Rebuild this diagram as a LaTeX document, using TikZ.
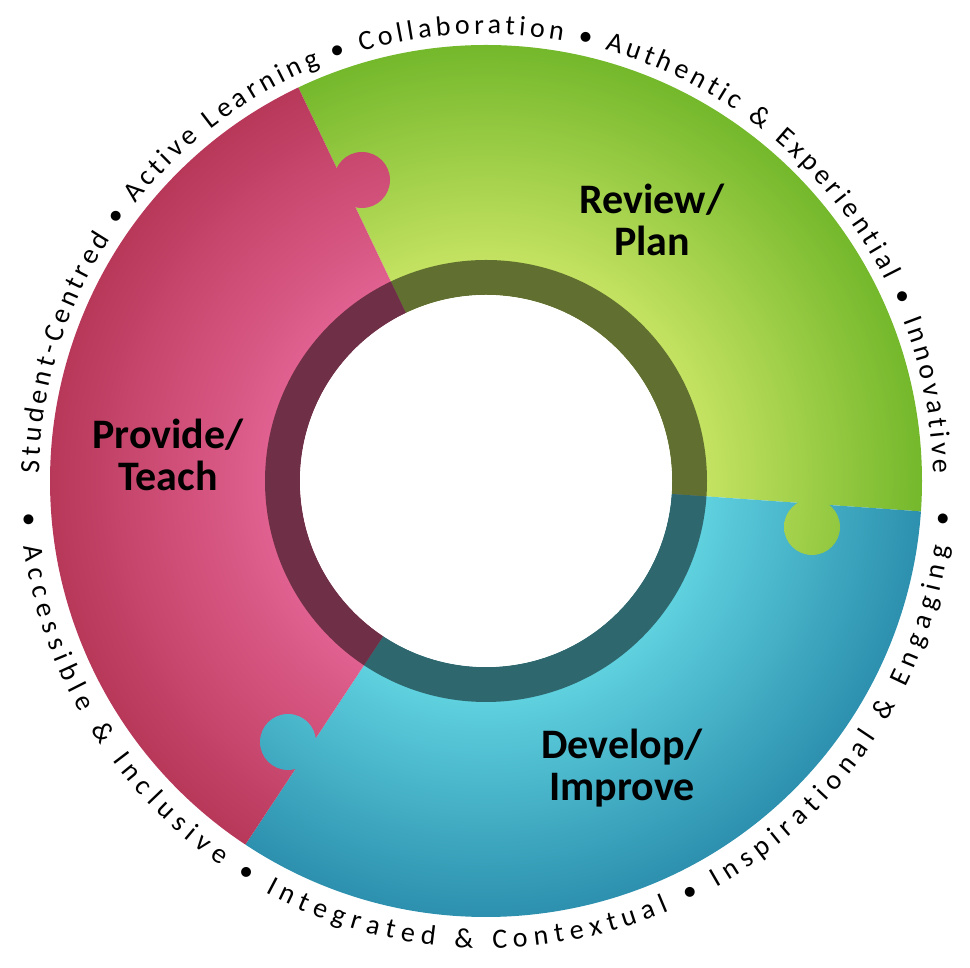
\documentclass[tikz,border=0pt]{standalone}
\usepackage{fontspec}
\setmainfont{Carlito}
\usetikzlibrary{decorations.text,calc}
\definecolor{pL}{HTML}{E0608F}\definecolor{pD}{HTML}{B8385A}
\definecolor{gL}{HTML}{C4E262}\definecolor{gD}{HTML}{74B82C}
\definecolor{bL}{HTML}{5ED0DE}\definecolor{bD}{HTML}{2C90AE}
\pgfdeclareradialshading{ringpink}{\pgfpointorigin}{color(0bp)=(pL); color(12.7bp)=(pL); color(25bp)=(pD); color(50bp)=(pD)}
\pgfdeclareradialshading{ringgreen}{\pgfpointorigin}{color(0bp)=(gL); color(12.7bp)=(gL); color(25bp)=(gD); color(50bp)=(gD)}
\pgfdeclareradialshading{ringblue}{\pgfpointorigin}{color(0bp)=(bL); color(12.7bp)=(bL); color(25bp)=(bD); color(50bp)=(bD)}
\newcommand\ringfont{\fontsize{28}{28}\selectfont}
\tikzset{lab/.style={font=\fontsize{42}{42}\selectfont\bfseries, align=center, text=black}}
\begin{document}
\begin{tikzpicture}[x=1pt,y=1pt]
\useasboundingbox (0,0) rectangle (970,968);
\coordinate (C) at (486,487);
% green segment
\begin{scope}
\clip (C) ++(-4:436) arc (-4:115.5:436) -- ($(C)+(115.5:186)$) arc (115.5:-4:186) -- cycle;
\shade[shading=ringgreen] (C) circle (436);
\end{scope}
% blue
\begin{scope}
\clip (C) ++(236.5:436) arc (236.5:356:436) -- ($(C)+(356:186)$) arc (356:236.5:186) -- cycle;
\shade[shading=ringblue] (C) circle (436);
\end{scope}
% pink
\begin{scope}
\clip (C) ++(115.5:436) arc (115.5:236.5:436) -- ($(C)+(236.5:186)$) arc (236.5:115.5:186) -- cycle;
\shade[shading=ringpink] (C) circle (436);
\end{scope}
% knobs
\begin{scope}\clip (362,788) circle (28); \shade[shading=ringpink] (C) circle (436);\end{scope}
\begin{scope}\clip (812,441) circle (28); \shade[shading=ringgreen] (C) circle (436);\end{scope}
\begin{scope}\clip (288,226) circle (28); \shade[shading=ringblue] (C) circle (436);\end{scope}
% dark ring
\fill[black,opacity=0.5,even odd rule] (C) circle (221) (C) circle (186);
\fill[white] (C) circle (186);
% labels
\node[lab] (rp) at (652,748) {Review/\\Plan};
\node[lab] (pt) at (168,513) {Provide/\\Teach};
\node[lab] (di) at (622,200) {Develop/\\Improve};
% ring texts
\path[decorate,decoration={text along path,text align=fit to path,
 text={|\ringfont|Student-Centred • Active Learning • Collaboration • Authentic {\&} Experiential • Innovative}}]
 (C) ++(179:447) arc (179:1:447);
\path[decorate,decoration={text along path,text align=fit to path,
 text={|\ringfont|• Accessible {\&} Inclusive • Integrated {\&} Contextual • Inspirational {\&} Engaging •}}]
 (C) ++(184:467) arc (184:356:467);
\end{tikzpicture}
\end{document}
